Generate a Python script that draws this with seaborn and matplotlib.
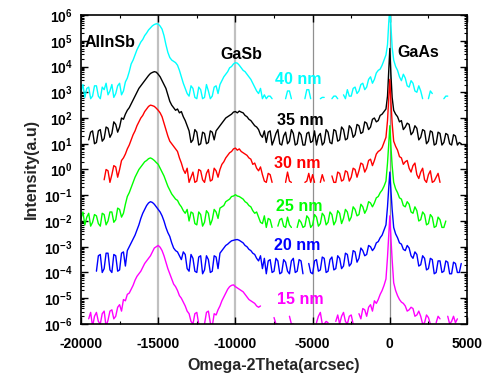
import numpy as np
import pandas as pd
import matplotlib
matplotlib.use("Agg")
import matplotlib.pyplot as plt
import seaborn as sns
from matplotlib.ticker import MultipleLocator, LogLocator, NullFormatter, FuncFormatter

# measurement grid (arcsec)
x_grid = list(range(-20000, -200, 125)) + [-150, -75, 0, 75, 150] + list(range(250, 5001, 125))

samples = ["40 nm", "35 nm", "30 nm", "25 nm", "20 nm", "15 nm"]
colors = ["#00FFFF", "#000000", "#FF0000", "#00FF00", "#0000FF", "#FF00FF"]
# vertical stacking offsets (log10 decades)
stack_offset = [2.75, 0.95, -0.5, -2.25, -4.05, -6.0]

# log10 intensity above each curve's floor ("n" = no counts)
rel_40 = """
0.25 0.55 0.05 0.4 0.45 0.0 0.1 0.5
0.5 0.1 0.0 0.45 0.35 0.6 0.15 0.3
0.55 0.05 0.2 0.5 0.6 0.15 0.3 0.65
0.8 1.05 1.35 1.5 1.7 1.9 2.05 2.2
2.3 2.45 2.55 2.67 2.75 2.83 2.88 2.91
2.9 2.82 2.7 2.45 2.1 1.8 1.6 1.5
1.45 1.4 1.3 1.1 0.85 0.6 0.4 0.2
0.1 0.5 0.4 0.05 0.0 0.45 0.35 0.0
0.05 0.55 0.3 0.0 0.1 0.45 0.5 0.2
0.55 0.7 0.85 0.95 1.05 1.2 1.25 1.35
1.4 1.38 1.3 1.2 1.1 1.05 0.95 0.85
0.75 0.6 0.45 0.3 0.2 0.4 0.0 0.15
0.0 0.1 0.1 0.0 n n n n
n n 0.0 0.3 0.3 0.0 n n
n n n n 0.0 0.35 0.35 0.0
n n n n 0.0 0.05 0.05 n
n n 0.0 0.1 0.1 0.0 n n
0.15 0.0 0.35 0.1 0.1 0.4 0.45 0.2
0.3 0.55 0.6 0.35 0.45 0.75 0.85 0.6
0.75 1.0 1.1 1.15 1.3 1.5 1.7
2.1 2.9 3.6 2.8 2.0
1.5 1.25 1.1 0.85 0.7 0.95 0.8 0.5 0.45 0.7 0.6 0.3 0.25 0.5 0.3 0.0 n n 0.0 0.3
0.2 n n n n n 0.0 0.1 0.1 n n n n n n n n n n
"""
rel_35 = """
n n n n 0.2 0.5 0.55 0.05
0.1 0.55 0.6 0.15 0.25 0.7 0.65 0.3
0.45 0.9 0.8 0.5 0.7 1.05 1.0 1.2
1.35 1.45 1.6 1.75 1.9 2.05 2.2 2.3
2.4 2.5 2.6 2.7 2.78 2.82 2.85 2.83
2.75 2.65 2.5 2.35 2.2 1.95 1.7 1.55
1.45 1.35 1.4 1.25 1.3 1.1 0.95 0.75
0.55 0.1 0.2 0.6 0.5 0.0 0.05 0.5
0.45 0.05 0.1 0.55 0.5 0.2 0.55 0.65
0.75 0.85 0.95 1.05 1.1 1.15 1.2 1.28
1.3 1.25 1.32 1.28 1.25 1.15 1.1 1.0
0.95 0.85 0.75 0.7 0.6 0.4 0.3 0.55
0.1 0.5 0.55 0.0 0.2 0.45 0.6 0.05
0.0 0.35 0.5 0.05 0.15 0.6 0.45 0.0
0.05 0.5 0.4 0.0 0.0 0.45 0.5 0.1
0.15 0.55 0.0 0.35 0.45 0.0 0.1 0.6
0.5 0.1 0.05 0.6 0.55 0.15 0.2 0.7
0.6 0.2 0.25 0.75 0.65 0.3 0.4 0.8
0.75 0.45 0.5 0.9 0.85 0.6 0.7 1.0
1.05 0.9 0.95 1.15 1.2 1.3 1.4
1.9 2.8 3.75 2.7 1.85
1.35 1.2 1.1 0.9 0.95 0.6 0.7 0.85 0.8 0.4 0.5 0.75 0.65 0.2 0.3 0.6 0.55 0.05 0.15 0.55
0.5 0.0 0.05 0.5 0.45 0.0 0.1 0.45 0.4 0.05 0.0 0.4 0.35 0.0 0.1 0.05 n n n
"""
rel_30 = """
n n n n n n n n
n n n n 0.1 0.5 0.45 0.0
0.3 0.65 0.6 0.2 0.5 0.85 0.95 1.1
1.3 1.45 1.65 1.85 2.0 2.2 2.35 2.5
2.6 2.75 2.85 2.95 3.0 2.98 2.95 2.88
2.8 2.7 2.55 2.3 2.05 1.8 1.6 1.5
1.4 1.3 1.2 0.95 0.75 0.5 0.35 0.55
0.0 0.2 0.4 0.0 0.05 0.5 0.45 0.1
0.0 0.35 0.5 0.05 0.1 0.55 0.45 0.2
0.5 0.7 0.8 0.95 1.05 1.15 1.2 1.3
1.33 1.25 1.3 1.2 1.15 1.1 1.05 0.95
0.9 0.7 0.75 0.55 0.45 0.6 0.3 0.05
0.0 0.35 0.3 0.0 n n n n
n n 0.0 0.4 0.05 0.0 n n
n n n n 0.0 0.05 0.35 0.0
0.3 0.0 n n 0.0 0.3 0.05 n
n n 0.25 0.0 0.0 0.4 0.35 0.05
0.1 0.45 0.4 0.05 0.2 0.55 0.5 0.2
0.45 0.75 0.7 0.4 0.55 0.85 0.9 0.65
0.85 1.1 1.2 1.25 1.35 1.55 1.75
2.4 3.2 4.0 3.1 2.3
1.6 1.4 1.25 1.0 0.95 0.7 0.8 0.85 0.55 0.4 0.65 0.75 0.3 0.15 0.4 0.55 0.1 0.0 0.3 0.45
0.0 0.05 0.2 0.35 0.0 n n n n n n n n n n n n n n
"""
rel_25 = """
0.35 0.6 0.1 0.4 0.55 0.05 0.2 0.5
0.45 0.15 0.05 0.55 0.5 0.1 0.25 0.6
0.6 0.2 0.3 0.75 0.7 0.4 0.55 0.9
1.2 1.35 1.55 1.75 1.95 2.1 2.25 2.35
2.45 2.55 2.6 2.67 2.7 2.66 2.6 2.52
2.45 2.3 2.15 2.0 1.8 1.6 1.45 1.3
1.2 1.1 1.05 0.9 0.8 0.65 0.55 0.7
0.25 0.6 0.55 0.15 0.1 0.6 0.5 0.05
0.2 0.65 0.55 0.1 0.3 0.7 0.6 0.35
0.75 0.8 0.85 1.0 1.05 1.1 1.2 1.22
1.27 1.22 1.2 1.15 1.1 1.0 0.95 0.85
0.8 0.65 0.55 0.6 0.4 0.2 0.15 0.45
0.0 0.35 0.3 0.0 n n 0.05 0.3
0.35 0.05 0.0 0.4 0.1 0.0 n n
0.0 0.3 0.2 0.0 0.05 0.45 0.35 0.0
0.1 0.5 0.4 0.05 0.15 0.55 0.45 0.1
0.2 0.6 0.5 0.1 0.25 0.65 0.55 0.15
0.35 0.7 0.6 0.25 0.4 0.8 0.7 0.45
0.5 0.9 0.8 0.55 0.7 1.0 0.95 0.8
0.95 1.15 1.2 1.35 1.45 1.6 1.8
2.5 3.2 3.95 3.1 2.4
1.75 1.5 1.35 1.15 1.1 0.85 0.8 1.0 0.9 0.6 0.55 0.8 0.65 0.25 0.3 0.6 0.5 0.1 0.15 0.5
0.4 0.0 0.05 0.4 0.3 0.0 0.0 0.25 n n n n n n n n n n n
"""
rel_20 = """
n n n n n n n n
0.1 0.7 0.75 0.05 0.2 0.8 0.8 0.15
0.05 0.75 0.7 0.1 0.15 0.8 0.85 0.3
0.9 1.05 1.2 1.35 1.5 1.7 1.9 2.15
2.35 2.5 2.65 2.75 2.8 2.77 2.7 2.6
2.5 2.4 2.25 2.05 1.8 1.6 1.45 1.2
1.0 0.9 0.85 0.7 0.55 0.85 0.75 0.2
0.1 0.75 0.6 0.1 0.05 0.65 0.7 0.0
0.15 0.7 0.55 0.05 0.1 0.7 0.65 0.2
0.8 0.9 1.0 1.1 1.15 1.22 1.28 1.3
1.32 1.33 1.3 1.25 1.2 1.1 1.05 0.95
0.9 0.8 0.75 0.6 0.5 0.7 0.2 0.6
0.0 0.5 0.55 0.05 0.1 0.6 0.5 0.0
0.05 0.55 0.45 0.1 0.0 0.5 0.6 0.05
0.1 0.55 0.5 0.0 n n 0.4 0.05
0.0 0.5 0.55 0.1 0.15 0.65 0.6 0.05
0.1 0.55 0.65 0.15 0.2 0.7 0.6 0.2
0.3 0.8 0.75 0.3 0.4 0.9 0.85 0.45
0.6 1.0 0.9 0.7 0.75 1.1 1.05 0.9
1.0 1.2 1.25 1.4 1.5 1.7 1.9
2.6 3.3 3.95 3.2 2.5
1.8 1.55 1.4 1.2 1.15 0.95 0.9 1.1 1.0 0.7 0.6 0.85 0.75 0.3 0.35 0.7 0.6 0.15 0.2 0.6
0.55 0.0 0.05 0.5 0.5 0.05 0.1 0.5 0.45 0.0 0.0 0.45 0.4 0.05 0.05 0.4 n n n
"""
rel_15 = """
n n n n 0.2 0.45 -0.1 0.3
0.45 0.1 0.0 0.4 0.5 -0.1 0.15 0.5
0.55 0.2 0.3 0.65 0.75 0.5 0.95 0.9
1.15 1.2 1.35 1.5 1.7 1.85 1.95 2.05
2.2 2.35 2.45 2.55 2.65 2.8 2.95 3.0
3.05 2.98 2.85 2.65 2.4 2.15 1.95 1.75
1.55 1.45 1.3 1.1 1.0 0.85 0.7 0.5
0.4 0.1 0.0 0.4 0.45 0.0 n n
0.0 0.45 0.5 0.05 -0.1 0.4 0.35 0.55
0.7 0.9 1.05 1.2 1.35 1.45 1.5 1.52
1.45 1.4 1.35 1.3 1.25 1.15 1.05 0.95
0.9 0.85 0.8 0.7 0.65 0.7 n n
n n n n 0.25 0.0 0.0 n
n n n n 0.3 0.0 0.0 n
n n n n n n n n
n n 0.05 0.3 0.45 0.0 0.0 0.1
0.05 n n n 0.1 0.35 0.0 0.3
0.45 0.1 0.0 0.3 0.35 0.0 n n
0.4 0.2 0.6 0.55 0.3 0.65 0.75 0.5
0.9 0.8 0.95 1.15 1.3 1.5 1.75
2.6 3.4 4.2 3.3 2.5
1.6 1.3 1.1 0.95 0.85 0.8 0.7 0.5 0.55 0.65 0.6 0.3 0.35 0.5 0.3 0.0 0.05 0.35 0.25 0.0
n n 0.05 0.3 0.2 n n n 0.3 0.0 0.1 0.3 0.05 0.2 n n n n n
"""


def parse(text):
    return [None if t == "n" else float(t) for t in text.split()]


rels = [parse(t) for t in (rel_40, rel_35, rel_30, rel_25, rel_20, rel_15)]
for r in rels:
    assert len(r) == len(x_grid), (len(r), len(x_grid))

ref_lines = [-15000, -10000, -5000, 0]
peak_labels = [("AlInSb", -19740, 10**4.95, "left"), ("GaSb", -9640, 10**4.45, "center"),
               ("GaAs", 1830, 10**4.56, "center")]
sample_label_x = [-5925, -5815, -5977, -5880, -5977, -5815]
sample_label_y = [3.51, 1.92, 0.24, -1.42, -2.97, -5.04]

rows = []
for name, rel, off in zip(samples, rels, stack_offset):
    seg = 0
    for xv, r in zip(x_grid, rel):
        if r is None:
            seg += 1
            continue
        rows.append((name, f"{name}-{seg}", xv, 10 ** (r + off)))
df = pd.DataFrame(rows, columns=["sample", "unit", "x", "y"])

sns.set_style("ticks")
plt.rcParams["font.family"] = ["Liberation Sans", "DejaVu Sans"]
plt.rcParams["font.weight"] = "bold"
plt.rcParams["axes.unicode_minus"] = False
plt.rcParams["mathtext.fontset"] = "custom"
plt.rcParams["mathtext.rm"] = "Liberation Sans:bold"
plt.rcParams["mathtext.bf"] = "Liberation Sans:bold"

fig = plt.figure(figsize=(4.87, 3.80), dpi=100)
ax = fig.add_axes([0.1663, 0.1474, 0.7927, 0.8131])

for xv in ref_lines:
    if xv in (-15000, -10000):
        ax.axvline(xv, color="#c0c0c0", lw=1.6, zorder=0)
    else:
        ax.axvline(xv, color="#909090", lw=0.9, zorder=0)

sns.lineplot(data=df, x="x", y="y", hue="sample", units="unit", estimator=None,
             hue_order=samples, palette=dict(zip(samples, colors)), legend=False,
             linewidth=1.0, sort=False, ax=ax)

ax.set_yscale("log")
ax.set_xlim(-20000, 5000)
ax.set_ylim(1e-6, 1e6)
ax.xaxis.set_major_locator(MultipleLocator(5000))
ax.xaxis.set_minor_locator(MultipleLocator(2500))
ax.yaxis.set_major_locator(LogLocator(base=10, numticks=20))
ax.yaxis.set_minor_locator(LogLocator(base=10, subs=np.arange(2, 10), numticks=200))
ax.yaxis.set_minor_formatter(NullFormatter())
ax.yaxis.set_major_formatter(FuncFormatter(lambda v, p: r"$\mathbf{10^{%d}}$" % round(np.log10(v))))
ax.tick_params(which="both", direction="in", top=True, right=True, colors="black")
ax.tick_params(which="major", length=5, width=1.0, labelsize=10)
ax.tick_params(which="minor", length=2.5, width=0.8)
ax.tick_params(axis="x", pad=9.5)
ax.tick_params(axis="y", pad=6)
for lab in ax.get_xticklabels():
    lab.set_fontweight("bold")
for s in ax.spines.values():
    s.set_color("black")
    s.set_linewidth(1.2)

ax.set_xlabel("Omega-2Theta(arcsec)", fontsize=11.5, fontweight="bold", labelpad=5)
ax.set_ylabel("Intensity(a.u)", fontsize=11.5, fontweight="bold", labelpad=4)

for txt, xv, yv, ha in peak_labels:
    ax.text(xv, yv, txt, fontsize=11.5, fontweight="bold", ha=ha, va="center", color="black")
for name, c, xv, yv in zip(samples, colors, sample_label_x, sample_label_y):
    ax.text(xv, 10 ** yv, name, fontsize=11.5, fontweight="bold", ha="center", va="center", color=c)

fig.savefig("out.png", dpi=100)
